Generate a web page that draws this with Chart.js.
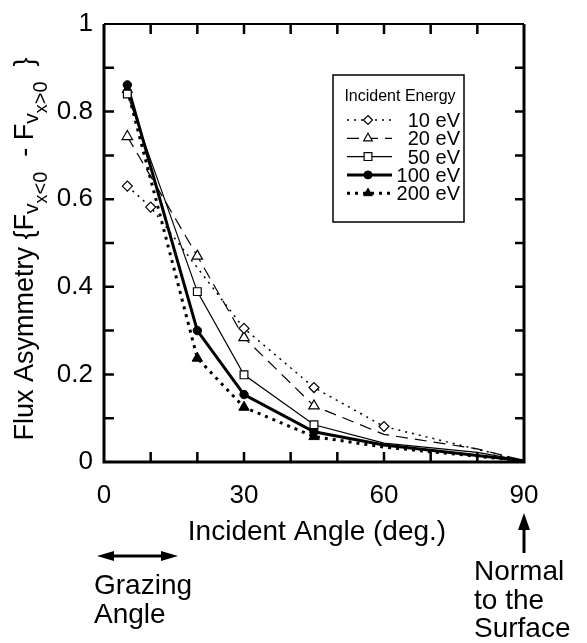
<!DOCTYPE html>
<html>
<head>
<meta charset="utf-8">
<script src="https://cdn.jsdelivr.net/npm/chart.js@4/dist/chart.umd.min.js"></script>
<style>
  body { margin: 0; background: #fff; }
  #wrap { width: 587px; height: 643px; }
</style>
</head>
<body>
<div id="wrap"><canvas id="fluxChart"></canvas></div>
<script>
// incident angles (deg.)
var angles10 = [5, 10, 30, 45, 60, 90];
var anglesHigh = [5, 20, 30, 45, 60, 80, 90];

// flux asymmetry per incident energy
var flux10 = [0.63, 0.582, 0.305, 0.17, 0.081, 0.003];
var flux20 = [0.743, 0.47, 0.284, 0.128, 0.063, 0.03, 0.003];
var flux50 = [0.84, 0.389, 0.199, 0.085, 0.043, 0.022, 0.003];
var flux100 = [0.861, 0.30, 0.154, 0.069, 0.039, 0.015, 0.003];
var flux200 = [0.85, 0.237, 0.125, 0.058, 0.034, 0.013, 0.003];

var energyLabels = ['10 eV', '20 eV', '50 eV', '100 eV', '200 eV'];
var xTickLabels = [0, 30, 60, 90];
var yTickLabels = [0, 0.2, 0.4, 0.6, 0.8, 1];

var FONT = '"Liberation Sans", Arial, Helvetica, sans-serif';

function pts(xs, ys) {
  return xs.map(function (x, i) {
    return { x: x, y: ys[i] };
  });
}

// hide markers on the far right where the curves merge
function radii(n, r, shown) {
  var out = [];
  for (var i = 0; i < n; i++) out.push(i < shown ? r : 0);
  return out;
}

function drawMarker(ctx, style, x, y, r, filled, bw) {
  ctx.save();
  ctx.setLineDash([]);
  ctx.lineWidth = bw;
  ctx.strokeStyle = '#000';
  ctx.fillStyle = filled ? '#000' : '#fff';
  ctx.beginPath();
  if (style === 'circle') {
    ctx.arc(x, y, r, 0, Math.PI * 2);
  } else if (style === 'rect') {
    var s = r * Math.SQRT1_2;
    ctx.rect(x - s, y - s, 2 * s, 2 * s);
  } else if (style === 'rectRot') {
    ctx.moveTo(x, y - r);
    ctx.lineTo(x + r, y);
    ctx.lineTo(x, y + r);
    ctx.lineTo(x - r, y);
    ctx.closePath();
  } else if (style === 'triangle') {
    ctx.moveTo(x, y - r);
    ctx.lineTo(x + r * 0.866, y + r * 0.5);
    ctx.lineTo(x - r * 0.866, y + r * 0.5);
    ctx.closePath();
  }
  ctx.fill();
  ctx.stroke();
  ctx.restore();
}

var frameAndNotes = {
  id: 'frameAndNotes',
  afterDraw: function (chart) {
    var ctx = chart.ctx;
    var a = chart.chartArea;
    var xs = chart.scales.x;
    var ys = chart.scales.y;
    ctx.save();
    ctx.strokeStyle = '#000';
    ctx.fillStyle = '#000';

    // frame
    ctx.lineWidth = 3;
    ctx.beginPath();
    ctx.moveTo(a.left, a.top);
    ctx.lineTo(a.left, a.bottom);
    ctx.lineTo(a.right, a.bottom);
    ctx.lineTo(a.right, a.top);
    ctx.stroke();
    ctx.lineWidth = 2;
    ctx.beginPath();
    ctx.moveTo(a.left, a.top);
    ctx.lineTo(a.right, a.top);
    ctx.stroke();

    // inward ticks
    ctx.lineWidth = 2.5;
    xs.ticks.forEach(function (t) {
      if (t.value <= 0 || t.value >= 90) return;
      var px = xs.getPixelForValue(t.value);
      ctx.beginPath();
      ctx.moveTo(px, a.bottom);
      ctx.lineTo(px, a.bottom - 10);
      ctx.moveTo(px, a.top);
      ctx.lineTo(px, a.top + 10);
      ctx.stroke();
    });
    ys.ticks.forEach(function (t) {
      if (t.value <= 0.001 || t.value >= 0.999) return;
      var py = ys.getPixelForValue(t.value);
      ctx.beginPath();
      ctx.moveTo(a.left, py);
      ctx.lineTo(a.left + 10, py);
      ctx.moveTo(a.right, py);
      ctx.lineTo(a.right - 9, py);
      ctx.stroke();
    });

    // y title with subscripts
    var parts = [
      ['Flux Asymmetry {F', 27, 0],
      ['v', 21, 5],
      ['x', 18, 14],
      ['<0', 20, 14],
      ['  - F', 27, 0],
      ['v', 21, 5],
      ['x', 18, 14],
      ['>0', 20, 14],
      ['  }', 27, 0]
    ];
    var total = 0;
    parts.forEach(function (p) {
      ctx.font = p[1] + 'px ' + FONT;
      p.push(ctx.measureText(p[0]).width);
      total += p[3];
    });
    ctx.save();
    ctx.translate(33, 249);
    ctx.rotate(-Math.PI / 2);
    ctx.textBaseline = 'alphabetic';
    ctx.textAlign = 'left';
    var cx = -total / 2;
    parts.forEach(function (p) {
      ctx.font = p[1] + 'px ' + FONT;
      ctx.fillText(p[0], cx, p[2]);
      cx += p[3];
    });
    ctx.restore();

    // x title
    ctx.font = '28px ' + FONT;
    ctx.textAlign = 'center';
    ctx.textBaseline = 'alphabetic';
    ctx.fillText('Incident Angle (deg.)', 317, 540);

    // grazing arrow
    ctx.lineWidth = 3;
    ctx.beginPath();
    ctx.moveTo(108, 556);
    ctx.lineTo(167, 556);
    ctx.stroke();
    ctx.beginPath();
    ctx.moveTo(97, 556);
    ctx.lineTo(114, 551);
    ctx.lineTo(114, 561);
    ctx.closePath();
    ctx.fill();
    ctx.beginPath();
    ctx.moveTo(178, 556);
    ctx.lineTo(161, 551);
    ctx.lineTo(161, 561);
    ctx.closePath();
    ctx.fill();

    ctx.textAlign = 'left';
    ctx.fillText('Grazing', 94, 594);
    ctx.fillText('Angle', 94, 623);

    // normal arrow
    ctx.beginPath();
    ctx.moveTo(524, 553);
    ctx.lineTo(524, 526);
    ctx.stroke();
    ctx.beginPath();
    ctx.moveTo(524, 513);
    ctx.lineTo(518, 530);
    ctx.lineTo(530, 530);
    ctx.closePath();
    ctx.fill();

    ctx.fillText('Normal', 474, 580);
    ctx.fillText('to the', 474, 609);
    ctx.fillText('Surface', 474, 637);

    // legend box
    ctx.lineWidth = 1.5;
    ctx.strokeRect(333, 75, 131, 147);
    ctx.font = '16px ' + FONT;
    ctx.textAlign = 'center';
    ctx.fillText('Incident Energy', 400, 101);
    ctx.font = '20px ' + FONT;
    ctx.textAlign = 'right';
    chart.data.datasets.forEach(function (ds, i) {
      var ry = 120 + i * 18.3;
      ctx.save();
      ctx.lineWidth = ds.borderWidth;
      ctx.setLineDash(ds.borderDash || []);
      ctx.beginPath();
      ctx.moveTo(347, ry);
      ctx.lineTo(392, ry);
      ctx.stroke();
      ctx.restore();
      drawMarker(ctx, ds.pointStyle, 368, ry, ds.legendRadius,
        ds.pointBackgroundColor === '#000', ds.pointBorderWidth);
      ctx.fillText(ds.label, 460, ry + 7);
    });

    ctx.restore();
  }
};

var ctx = document.getElementById('fluxChart');
var fluxChart = new Chart(ctx, {
  type: 'line',
  data: {
    datasets: [
      {
        label: energyLabels[0],
        data: pts(angles10, flux10),
        borderColor: '#000',
        borderWidth: 1.5,
        borderDash: [2, 5],
        pointStyle: 'rectRot',
        pointRadius: radii(angles10.length, 5, 5),
        legendRadius: 4.5,
        pointBackgroundColor: '#fff',
        pointBorderColor: '#000',
        pointBorderWidth: 1.2,
      },
      {
        label: energyLabels[1],
        data: pts(anglesHigh, flux20),
        borderColor: '#000',
        borderWidth: 1.2,
        borderDash: [12, 7],
        pointStyle: 'triangle',
        pointRadius: radii(anglesHigh.length, 6, 4),
        legendRadius: 5,
        pointBackgroundColor: '#fff',
        pointBorderColor: '#000',
        pointBorderWidth: 1.2,
      },
      {
        label: energyLabels[2],
        data: pts(anglesHigh, flux50),
        borderColor: '#000',
        borderWidth: 1.2,
        borderDash: [],
        pointStyle: 'rect',
        pointRadius: radii(anglesHigh.length, 5.5, 4),
        legendRadius: 5.5,
        pointBackgroundColor: '#fff',
        pointBorderColor: '#000',
        pointBorderWidth: 1.2,
      },
      {
        label: energyLabels[3],
        data: pts(anglesHigh, flux100),
        borderColor: '#000',
        borderWidth: 3,
        borderDash: [],
        pointStyle: 'circle',
        pointRadius: radii(anglesHigh.length, 4.2, 4),
        legendRadius: 4,
        pointBackgroundColor: '#000',
        pointBorderColor: '#000',
        pointBorderWidth: 1,
      },
      {
        label: energyLabels[4],
        data: pts(anglesHigh, flux200),
        borderColor: '#000',
        borderWidth: 3,
        borderDash: [3, 5],
        pointStyle: 'triangle',
        pointRadius: radii(anglesHigh.length, 6, 4),
        legendRadius: 5,
        pointBackgroundColor: '#000',
        pointBorderColor: '#000',
        pointBorderWidth: 1,
      },
    ],
  },
  options: {
    responsive: true,
    maintainAspectRatio: false,
    animation: false,
    layout: {
      padding: { top: 15, right: 63, left: 0, bottom: 0 },
    },
    plugins: {
      legend: { display: false },
      tooltip: { enabled: false },
    },
    scales: {
      x: {
        type: 'linear',
        min: 0,
        max: 90,
        border: { display: false },
        grid: { display: false, drawTicks: false },
        ticks: {
          stepSize: 10,
          autoSkip: false,
          maxRotation: 0,
          padding: 21,
          color: '#000',
          font: { family: FONT, size: 26, lineHeight: 1 },
          callback: function (value) {
            return xTickLabels.indexOf(value) >= 0 ? String(value) : '';
          },
        },
        afterFit: function (scale) {
          scale.height = 181;
        },
      },
      y: {
        min: 0,
        max: 1,
        border: { display: false },
        grid: { display: false, drawTicks: false },
        ticks: {
          stepSize: 0.1,
          autoSkip: false,
          padding: 11,
          color: '#000',
          font: { family: FONT, size: 26, lineHeight: 1 },
          callback: function (value) {
            var v = Math.round(value * 10) / 10;
            if (yTickLabels.indexOf(v) < 0) return '';
            if (v === 0 || v === 1) return String(v);
            return v.toFixed(1);
          },
        },
        afterFit: function (scale) {
          scale.width = 104;
        },
      },
    },
  },
  plugins: [frameAndNotes],
});
</script>
</body>
</html>
